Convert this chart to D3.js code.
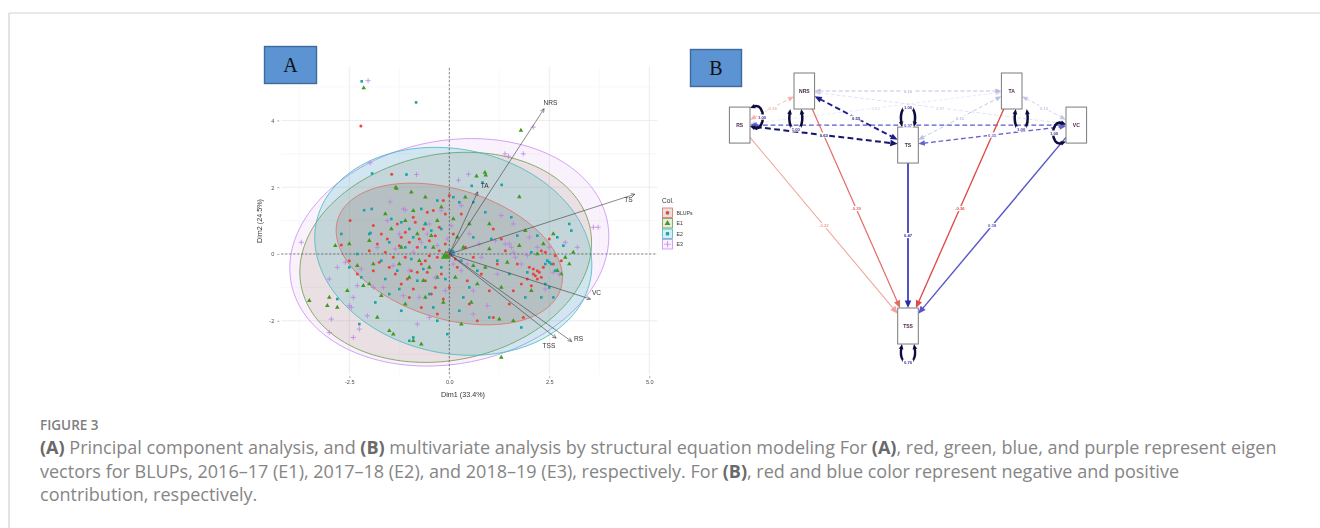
<!DOCTYPE html>
<html>
<head>
<meta charset="utf-8">
<script src="https://cdn.jsdelivr.net/npm/d3@7"></script>
<style>
  body { margin: 0; background: #fff; }
  svg { display: block; }
</style>
</head>
<body>
<svg id="fig" width="1320" height="528"></svg>
<script>
// ---------------- Panel A: PCA biplot data ----------------
const groupNames = ["BLUPs", "E1", "E2", "E3"];

const blupsPts = [
  [-2.21,3.83],[-1.44,2.39],[-2.48,1.0],[-2.7,0.27],[-2.5,-0.2],[-2.3,-0.6],[-1.8,0.3],[-1.6,0.05],
  [-1.5,-0.4],[-1.3,0.9],[-1.2,0.5],[-1.1,-0.1],[-1.0,0.35],[-0.95,-0.5],[-0.9,1.1],[-0.8,0.2],
  [-0.7,-0.3],[-0.65,0.75],[-0.6,-0.8],[-0.5,0.4],[-0.45,-1.2],[-0.4,1.3],[-0.3,-0.1],[-0.25,0.8],
  [-0.2,-0.6],[-0.15,1.6],[-0.1,0.3],[0.0,-1.0],[0.1,0.6],[0.2,-0.4],[0.3,1.2],[-1.2,-0.9],
  [-1.0,-1.3],[-0.7,-1.6],[-0.3,-1.8],[0.5,-1.5],[0.8,-0.6],[1.1,-1.9],[1.2,-0.3],[1.5,-1.5],
  [1.8,-0.9],[2.0,-0.4],[2.1,-0.6],[2.15,-0.65],[2.2,-0.5],[2.25,-0.55],[2.3,-0.7],[2.1,-0.45],
  [2.4,0.05],[2.6,-0.3],[2.65,-0.05],[1.7,-0.3],[1.1,0.75],[1.0,-1.1],[1.6,-1.1],[0.7,-2.0],
  [0.4,0.2],[-1.9,-0.5],[-1.4,-0.1],[-1.1,0.65],[-0.55,1.25],[-0.35,-1.0],[0.0,1.75],[-0.1,1.2],
  [-1.7,0.6],[-2.0,0.1],[1.3,0.45],[2.8,-0.2],[1.85,-1.9],[0.6,-0.1],[-0.8,-0.55],[-0.5,-0.05],
  [2.3,0.1],[2.5,0.45],[-1.35,-0.6],[-0.85,0.95],[-0.6,-0.2],[1.95,-0.75],[2.05,-0.95],[-1.05,-0.75],
  [-1.55,0.45],[-0.75,0.45],[-0.35,0.55],[0.15,-0.15],[-0.55,-0.55],[-1.25,0.25],[-0.15,-1.35],[0.45,-0.8],
  [-0.9,-1.05],[-1.75,-0.25],[2.35,-0.4],[2.2,-0.75],[1.4,0.1],[-0.25,0.1],[-1.9,0.85]
];
const e1Pts = [
  [-2.14,4.97],[1.79,3.70],[0.89,2.44],[0.91,2.36],[0.68,2.33],[1.75,1.71],[-1.34,1.99],[-1.32,1.96],
  [-2.85,0.25],[-2.0,0.4],[-1.9,-0.3],[-2.0,-0.9],[-2.15,-0.95],[-3.0,-1.3],[-3.5,-1.4],[-2.8,-1.6],
  [-1.8,-1.9],[-1.5,-2.3],[-1.4,-2.4],[-0.9,-2.6],[-0.7,-2.7],[-1.1,-1.5],[-0.6,-1.3],[-0.3,-0.7],
  [-0.8,0.6],[-0.6,0.9],[-0.5,-0.4],[-0.4,0.2],[-0.2,1.4],[0.0,-0.05],[0.2,0.5],[0.5,0.9],
  [-0.6,1.7],[-0.9,1.3],[-1.6,1.2],[-1.2,0.2],[-1.0,-0.7],[1.0,0.9],[0.9,-0.4],[1.3,-1.0],
  [1.6,-2.0],[1.3,-3.1],[2.7,-0.5],[2.8,-0.6],[2.9,-0.1],[3.1,0.05],[3.0,-0.3],[2.6,0.6],
  [2.2,0.0],[1.9,0.7],[1.75,0.25],[1.0,0.15],[0.7,-0.9],[0.3,-2.1],[-2.3,-0.35],[-2.55,-1.1],
  [-3.05,-1.55],[-0.15,-1.45],[0.4,1.7],[-0.3,1.0],[-1.45,0.75],[-0.75,-0.2],[0.15,-0.7],[1.25,-1.95],
  [-0.45,0.55],[-1.1,1.0],[0.6,-0.35],[-0.65,-0.8],[1.45,-0.25],[2.35,0.3],[-2.5,0.3],[-1.7,-1.25],
  [0.1,1.05],[-0.95,1.85],[0.55,-1.45],[2.05,-1.1],[-1.25,-0.3],[0.35,0.2]
];
const e2Pts = [
  [-2.19,5.17],[-0.83,4.54],[0.83,2.14],[0.56,2.04],[1.31,2.07],[-1.93,2.41],[-1.07,2.38],[-2.13,1.31],
  [-1.94,1.35],[-2.0,0.6],[-1.97,0.63],[-2.3,0.0],[-2.2,-0.7],[-2.8,-1.35],[-2.25,-2.1],[-1.5,-1.2],
  [-1.2,-1.7],[-1.0,-2.6],[-0.9,-2.5],[-0.3,-2.0],[-0.05,-2.4],[0.5,-1.0],[1.8,-2.2],[1.9,-1.3],
  [2.3,-1.3],[2.4,-0.9],[2.5,-1.0],[2.6,-1.3],[2.45,-0.2],[2.5,-0.25],[2.55,-0.3],[2.4,-0.3],
  [2.65,-0.5],[2.7,0.5],[3.0,0.9],[3.05,0.7],[2.2,0.55],[1.2,-0.2],[0.9,1.25],[0.6,1.55],
  [0.1,1.7],[0.25,1.55],[-0.3,1.6],[-0.6,0.9],[-0.9,0.5],[-1.1,0.2],[-1.3,-0.5],[-0.8,-0.8],
  [-0.5,-1.2],[-0.2,-0.4],[0.0,0.1],[0.3,-0.2],[-0.6,0.2],[-1.5,0.35],[-1.7,-0.2],[-0.7,1.35],
  [-1.2,0.95],[0.6,0.5],[1.5,-0.6],[1.0,-1.9],[-0.4,-1.6],[-1.6,-0.75],[-2.7,0.6],[1.55,1.1],
  [-1.25,-1.05],[-0.95,-0.15],[0.35,-1.3],[1.95,-0.55],
  [-0.45,0.7],[-1.45,1.05],[-0.2,0.75],[0.7,-0.5],[1.7,0.55],[2.05,0.05],[2.85,0.25],[-1.85,-1.45],
  [-2.5,-0.4],[0.25,-1.7],[-0.65,-0.45],[-1.0,0.75],[1.05,0.45],[-0.1,-0.75]
];
const e3Pts = [
  [-2.03,5.19],[2.1,3.8],[1.39,3.0],[1.48,2.93],[1.85,3.0],[0.48,2.39],[0.23,2.21],[-1.98,2.73],
  [-0.82,2.38],[-1.48,1.56],[-1.15,1.35],[-1.1,1.32],[-3.7,0.35],[-3.0,-0.75],[-2.2,-0.45],[-2.3,-0.95],
  [-2.4,-1.3],[-2.95,-1.95],[-3.0,-2.35],[-2.5,-1.55],[-2.45,-1.6],[-2.25,-2.25],[-2.4,-2.5],[-2.05,-1.85],
  [-1.9,-1.0],[-1.8,0.2],[-1.4,-0.35],[-1.0,-0.5],[-0.75,-1.3],[-0.8,-2.1],[-0.5,-1.9],[-0.1,-1.1],
  [0.3,-0.5],[0.6,-1.1],[0.6,-1.8],[1.15,0.4],[1.4,0.3],[1.5,0.3],[1.55,0.2],[1.6,0.05],
  [1.65,-0.1],[1.8,-0.3],[2.0,0.5],[2.2,0.2],[2.5,0.2],[2.6,-0.55],[2.75,-0.6],[2.9,0.35],
  [3.2,0.2],[3.6,0.8],[3.72,0.8],[2.4,-1.05],[1.6,0.9],[0.8,-0.1],[0.5,0.6],[0.3,1.45],
  [-0.2,1.3],[-0.5,0.9],[-0.55,0.6],[-0.9,0.05],[-1.25,0.6],[-0.3,0.25],[0.1,-0.3],[0.25,-0.2],
  [-1.65,-1.0],[-0.05,0.45],[-2.6,-0.25],
  [-1.35,0.15],[-0.7,0.35],[0.05,0.85],[0.75,0.3],[1.2,-0.6],[1.95,-0.05],[-1.55,1.0],[-0.35,-0.7],
  [-1.15,-1.25],[0.95,-1.55],[-2.8,-0.4],[1.3,1.15],[0.45,-0.3]
];

// group centroids (drawn as large markers)
const meanDim1 = [0.0, -0.09, 0.06, 0.03];
const meanDim2 = [0.0, -0.06, 0.04, 0.01];

// concentration ellipses: centre and covariance terms per group
const ellCenterX = [0.0, -0.09, 0.10, 0.0];
const ellCenterY = [0.0, -0.10, 0.08, 0.05];
const ellVarX = [8.0, 13.3, 12.0, 15.9];
const ellVarY = [4.5, 9.9, 9.7, 11.6];
const ellCov = [-2.0, 1.6, -1.4, 1.9];

// variable loadings (arrows)
const varNames = ["NRS", "TA", "TS", "VC", "RS", "TSS"];
const varDim1 = [2.37, 0.71, 4.64, 3.53, 3.06, 2.67];
const varDim2 = [4.35, 1.86, 1.79, -1.35, -2.62, -2.52];

const xTicks = [-2.5, 0, 2.5, 5];
const yTicks = [-2, 0, 2, 4];

// ---------------- Panel B: SEM path diagram data ----------------
const semNodes = ["RS", "NRS", "TS", "TA", "VC", "TSS"];
const semNodeX = [-0.99, -0.61, 0, 0.61, 0.99, 0];
const semNodeY = [0.145, 0, 0.23, 0, 0.145, 1];

const regFrom = ["RS", "NRS", "TS", "TA", "VC"];
const regTo = ["TSS", "TSS", "TSS", "TSS", "TSS"];
const regEst = [-0.22, -0.29, 0.47, -0.36, 0.38];

const covA = ["RS", "RS", "RS", "RS", "NRS", "NRS", "NRS", "TS", "TS", "TA"];
const covB = ["NRS", "TS", "TA", "VC", "TS", "TA", "VC", "TA", "VC", "VC"];
const covEst = [-0.16, 0.63, 0.03, 0.37, 0.55, 0.16, 0.07, 0.15, 0.35, 0.12];

const varNode = ["RS", "NRS", "TS", "TA", "VC", "TSS"];
const varEst = [1.00, 1.00, 1.00, 1.00, 1.00, 0.76];

// ---------------- drawing ----------------
const svg = d3.select("#fig");
const defs = svg.append("defs");
defs.append("filter").attr("id", "soft").attr("x", "-5%").attr("y", "-5%").attr("width", "110%").attr("height", "110%")
  .append("feGaussianBlur").attr("stdDeviation", 0.35);

// page frame
svg.append("line").attr("x1", 9).attr("y1", 13).attr("x2", 1320).attr("y2", 13)
  .attr("stroke", "#d2d2d2").attr("stroke-width", 1.2);
svg.append("line").attr("x1", 9).attr("y1", 13).attr("x2", 9).attr("y2", 528)
  .attr("stroke", "#d2d2d2").attr("stroke-width", 1.2);

// ===== Panel A =====
const pa = svg.append("g").attr("font-family", "Liberation Sans, Arial, sans-serif").attr("filter", "url(#soft)");
const xA = d3.scaleLinear().domain([-4.2, 5.2]).range([281.3, 657.3]);
const yA = d3.scaleLinear().domain([-3.6, 5.6]).range([374.2, 67]);

const groupColor = ["#e8453c", "#3f9a1e", "#14a5a8", "#b97ae2"];
const ellStroke = ["#d9706a", "#6f9a48", "#46b8be", "#c98cf0"];
const ellFill = ["#7d6a5e", "#ab9274", "#2db4b8", "#dcaef2"];
const ellFillOp = [0.2, 0.2, 0.2, 0.16];

// grid
const grid = pa.append("g");
const minorX = [-3.75, -1.25, 1.25, 3.75], minorY = [-3, -1, 1, 3, 5];
grid.selectAll(".gmx").data(minorX).join("line")
  .attr("x1", d => xA(d)).attr("x2", d => xA(d)).attr("y1", yA.range()[0]).attr("y2", yA.range()[1])
  .attr("stroke", "#f0f0f0").attr("stroke-width", 0.5);
grid.selectAll(".gmy").data(minorY).join("line")
  .attr("y1", d => yA(d)).attr("y2", d => yA(d)).attr("x1", xA.range()[0]).attr("x2", xA.range()[1])
  .attr("stroke", "#f0f0f0").attr("stroke-width", 0.5);
grid.selectAll(".gx").data(xTicks).join("line")
  .attr("x1", d => xA(d)).attr("x2", d => xA(d)).attr("y1", yA.range()[0]).attr("y2", yA.range()[1])
  .attr("stroke", "#e4e4e4").attr("stroke-width", 0.7);
grid.selectAll(".gy").data(yTicks).join("line")
  .attr("y1", d => yA(d)).attr("y2", d => yA(d)).attr("x1", xA.range()[0]).attr("x2", xA.range()[1])
  .attr("stroke", "#e4e4e4").attr("stroke-width", 0.7);

// ellipses
const ellLine = d3.line().x(d => xA(d[0])).y(d => yA(d[1])).curve(d3.curveLinearClosed);
function ellipsePoints(i) {
  const sx = Math.sqrt(ellVarX[i]);
  const k = ellCov[i] / sx;
  const r = Math.sqrt(ellVarY[i] - k * k);
  return d3.range(0, 2 * Math.PI, Math.PI / 90).map(t =>
    [ellCenterX[i] + sx * Math.cos(t), ellCenterY[i] + k * Math.cos(t) + r * Math.sin(t)]);
}
const ellOrder = [3, 1, 2, 0];
ellOrder.forEach(i => {
  pa.append("path").attr("d", ellLine(ellipsePoints(i)))
    .attr("fill", ellFill[i]).attr("fill-opacity", ellFillOp[i])
    .attr("stroke", ellStroke[i]).attr("stroke-width", 0.8);
});

// zero reference lines
pa.append("line").attr("x1", xA(0)).attr("x2", xA(0)).attr("y1", yA.range()[0]).attr("y2", yA.range()[1])
  .attr("stroke", "#333").attr("stroke-width", 0.6).attr("stroke-dasharray", "2,2");
pa.append("line").attr("y1", yA(0)).attr("y2", yA(0)).attr("x1", xA.range()[0]).attr("x2", xA.range()[1])
  .attr("stroke", "#333").attr("stroke-width", 0.6).attr("stroke-dasharray", "2,2");

// point markers
function marker(sel, gi, scale) {
  const c = groupColor[gi];
  if (gi === 0) sel.append("circle").attr("r", 1.5 * scale).attr("fill", c);
  else if (gi === 1) sel.append("path").attr("d", d3.symbol(d3.symbolTriangle, 9 * scale * scale)()).attr("fill", c);
  else if (gi === 2) sel.append("rect").attr("x", -1.3 * scale).attr("y", -1.3 * scale)
    .attr("width", 2.6 * scale).attr("height", 2.6 * scale).attr("fill", c);
  else sel.append("path").attr("d", `M${-2.6 * scale},0H${2.6 * scale}M0,${-2.6 * scale}V${2.6 * scale}`)
    .attr("stroke", c).attr("stroke-width", 0.7).attr("fill", "none");
}
const groupPts = [blupsPts, e1Pts, e2Pts, e3Pts];
groupPts.forEach((pts, gi) => {
  pa.append("g").selectAll("g").data(pts).join("g")
    .attr("transform", d => `translate(${xA(d[0])},${yA(d[1])})`)
    .each(function () { marker(d3.select(this), gi, 1); });
});
groupNames.forEach((n, gi) => {
  const m = pa.append("g").attr("transform", `translate(${xA(meanDim1[gi])},${yA(meanDim2[gi])})`);
  marker(m, gi, 2.1);
});

// loading arrows
const arrowG = pa.append("g");
const labelOffset = { NRS: [6.4, -5.7], TA: [7, -5.7], TS: [-6.4, 6], VC: [6, -5.4], RS: [6.8, -2.7], TSS: [-7.2, 7.7] };
varNames.forEach((v, i) => {
  const x0 = xA(0), y0 = yA(0), x1 = xA(varDim1[i]), y1 = yA(varDim2[i]);
  const ang = Math.atan2(y1 - y0, x1 - x0);
  const hl = 4.2, ha = Math.PI / 7;
  arrowG.append("line").attr("x1", x0).attr("y1", y0).attr("x2", x1).attr("y2", y1)
    .attr("stroke", "#3a3a3a").attr("stroke-width", 0.6);
  arrowG.append("path")
    .attr("d", `M${x1 - hl * Math.cos(ang - ha)},${y1 - hl * Math.sin(ang - ha)}L${x1},${y1}L${x1 - hl * Math.cos(ang + ha)},${y1 - hl * Math.sin(ang + ha)}`)
    .attr("stroke", "#3a3a3a").attr("stroke-width", 0.6).attr("fill", "none");
  arrowG.append("text").attr("x", x1 + labelOffset[v][0]).attr("y", y1 + labelOffset[v][1])
    .attr("text-anchor", "middle").attr("dominant-baseline", "middle")
    .attr("font-size", 6.6).attr("fill", "#333").text(v);
});

// axes
const axX = pa.append("g").attr("transform", `translate(0,${yA.range()[0] + 2})`)
  .call(d3.axisBottom(xA).tickValues(xTicks).tickFormat(d => d.toFixed(1)).tickSize(2));
const axY = pa.append("g").attr("transform", `translate(${xA.range()[0] - 2},0)`)
  .call(d3.axisLeft(yA).tickValues(yTicks).tickFormat(d => String(d)).tickSize(2));
[axX, axY].forEach(a => {
  a.select(".domain").remove();
  a.selectAll(".tick line").attr("stroke", "#555").attr("stroke-width", 0.5);
  a.selectAll(".tick text").attr("font-size", 5.6).attr("fill", "#4d4d4d").attr("font-family", "Liberation Sans, Arial, sans-serif");
});
axX.selectAll(".tick text").attr("dy", "0.5em");

pa.append("text").attr("x", 463).attr("y", 397).attr("text-anchor", "middle")
  .attr("font-size", 7.2).attr("fill", "#333").text("Dim1 (33.4%)");
pa.append("text").attr("transform", `translate(262,221) rotate(-90)`).attr("text-anchor", "middle")
  .attr("font-size", 7.2).attr("fill", "#333").text("Dim2 (24.5%)");

// legend
const lg = pa.append("g").attr("transform", "translate(662,203)");
lg.append("text").attr("x", 0).attr("y", 0).attr("font-size", 6.6).attr("fill", "#333").text("Col.");
groupNames.forEach((n, gi) => {
  const ky = 5 + gi * 10.5;
  lg.append("rect").attr("x", 0.5).attr("y", ky).attr("width", 10).attr("height", 9.5)
    .attr("fill", ellFill[gi]).attr("fill-opacity", ellFillOp[gi])
    .attr("stroke", ellStroke[gi]).attr("stroke-width", 0.8);
  const m = lg.append("g").attr("transform", `translate(5.5,${ky + 4.75})`);
  marker(m, gi, 1.25);
  lg.append("text").attr("x", 14.5).attr("y", ky + 6.6).attr("font-size", 5.2).attr("fill", "#333").text(n);
});

// panel tag A
svg.append("rect").attr("x", 264.5).attr("y", 46.5).attr("width", 52).attr("height", 37)
  .attr("fill", "#5b93d3").attr("stroke", "#3f6a9a").attr("stroke-width", 1.4);
svg.append("text").attr("x", 290.5).attr("y", 72).attr("text-anchor", "middle")
  .attr("font-family", "Liberation Serif, Times New Roman, serif").attr("font-size", 20).attr("fill", "#111").text("A");

// ===== Panel B =====
const pb = svg.append("g").attr("font-family", "Liberation Sans, Arial, sans-serif").attr("filter", "url(#soft)");
const xB = d3.scaleLinear().domain([-1, 1]).range([738, 1078]);
const yB = d3.scaleLinear().domain([0, 1]).range([91, 326]);
const halfW = 10.3, halfH = 18;
const nodeIdx = n => semNodes.indexOf(n);
const nodePos = n => [xB(semNodeX[nodeIdx(n)]), yB(semNodeY[nodeIdx(n)])];

const posColor = d3.scaleLinear().domain([0, 0.1, 0.2, 0.37, 0.47, 0.6, 1])
  .range(["#e4e4f6", "#cacaea", "#b0b0e0", "#5a5acc", "#2a2ab4", "#141470", "#0a0a36"]);
const negColor = d3.scaleLinear().domain([0, 0.16, 0.22, 0.29, 0.36])
  .range(["#fbe0dc", "#f4b2a8", "#f0a39a", "#e26a64", "#e04a48"]);
const edgeColor = w => (w < 0 ? negColor(-w) : posColor(w));
const edgeWidth = w => 0.5 + 2.4 * Math.abs(w);

function boundaryPoint(c, toward) {
  const dx = toward[0] - c[0], dy = toward[1] - c[1];
  const t = Math.min(dx === 0 ? Infinity : halfW / Math.abs(dx), dy === 0 ? Infinity : halfH / Math.abs(dy));
  return [c[0] + dx * t, c[1] + dy * t];
}
function headPath(tip, ux, uy, len, wid) {
  const bx = tip[0] - ux * len, by = tip[1] - uy * len;
  return `M${tip[0]},${tip[1]}L${bx - uy * wid / 2},${by + ux * wid / 2}L${bx + uy * wid / 2},${by - ux * wid / 2}Z`;
}
const edgeLabels = [];

function drawEdge(a, b, w, twoHeaded) {
  const pa_ = nodePos(a), pb_ = nodePos(b);
  const s = boundaryPoint(pa_, pb_), e = boundaryPoint(pb_, pa_);
  const L = Math.hypot(e[0] - s[0], e[1] - s[1]);
  const ux = (e[0] - s[0]) / L, uy = (e[1] - s[1]) / L;
  const col = edgeColor(w), sw = edgeWidth(w);
  const hl = twoHeaded ? 5.5 + 3 * Math.abs(w) : 7.5, hw = twoHeaded ? 4.5 + 3 * Math.abs(w) : 6.5;
  const s2 = twoHeaded ? [s[0] + ux * hl * 0.8, s[1] + uy * hl * 0.8] : s;
  const e2 = [e[0] - ux * hl * 0.8, e[1] - uy * hl * 0.8];
  pb.append("line").attr("x1", s2[0]).attr("y1", s2[1]).attr("x2", e2[0]).attr("y2", e2[1])
    .attr("stroke", col).attr("stroke-width", sw)
    .attr("stroke-dasharray", twoHeaded ? `${2.6 + sw * 1.6},${1.6 + sw * 0.9}` : null);
  pb.append("path").attr("d", headPath(e, ux, uy, hl, hw)).attr("fill", col);
  if (twoHeaded) pb.append("path").attr("d", headPath(s, -ux, -uy, hl, hw)).attr("fill", col);
  edgeLabels.push({ x: (s[0] + e[0]) / 2, y: (s[1] + e[1]) / 2, w, col });
}

covA.forEach((a, i) => drawEdge(a, covB[i], covEst[i], true));
regFrom.forEach((a, i) => drawEdge(a, regTo[i], regEst[i], false));

// residual variance loops
const loopLayout = {
  RS: { dir: [1, 0], off: -8, spread: 9, out: 12 },
  NRS: { dir: [0, 1], off: 8.5, spread: 5.5, out: 20 },
  TS: { dir: [0, -1], off: 0, spread: 6, out: 20 },
  TA: { dir: [0, 1], off: -9.5, spread: 5.5, out: 20 },
  VC: { dir: [-1, 0], off: -8, spread: 8.5, out: 12 },
  TSS: { dir: [0, 1], off: 0, spread: 6, out: 18 }
};
varNode.forEach((n, i) => {
  const c = nodePos(n), lay = loopLayout[n];
  const d = lay.dir, p = [-d[1], d[0]];
  const base = [c[0] + d[0] * halfW + p[0] * lay.off, c[1] + d[1] * halfH + p[1] * lay.off];
  const P1 = [base[0] - p[0] * lay.spread, base[1] - p[1] * lay.spread];
  const P2 = [base[0] + p[0] * lay.spread, base[1] + p[1] * lay.spread];
  const k = 1.33 * lay.out;
  const C1 = [P1[0] + d[0] * k - p[0] * lay.spread * 0.7, P1[1] + d[1] * k - p[1] * lay.spread * 0.7];
  const C2 = [P2[0] + d[0] * k + p[0] * lay.spread * 0.7, P2[1] + d[1] * k + p[1] * lay.spread * 0.7];
  const col = "#0b0b3c";
  const hl = 5.2, hw = 4.6;
  // trim the curve ends so the heads sit on the node
  const dir1 = [P1[0] - C1[0], P1[1] - C1[1]], l1 = Math.hypot(...dir1);
  const dir2 = [P2[0] - C2[0], P2[1] - C2[1]], l2 = Math.hypot(...dir2);
  const u1 = [dir1[0] / l1, dir1[1] / l1], u2 = [dir2[0] / l2, dir2[1] / l2];
  const Q1 = [P1[0] - u1[0] * hl * 0.8, P1[1] - u1[1] * hl * 0.8];
  const Q2 = [P2[0] - u2[0] * hl * 0.8, P2[1] - u2[1] * hl * 0.8];
  pb.append("path").attr("d", `M${Q1[0]},${Q1[1]}C${C1[0]},${C1[1]} ${C2[0]},${C2[1]} ${Q2[0]},${Q2[1]}`)
    .attr("fill", "none").attr("stroke", col).attr("stroke-width", 1.9 + 0.6 * varEst[i]);
  pb.append("path").attr("d", headPath(P1, u1[0], u1[1], hl, hw)).attr("fill", col);
  pb.append("path").attr("d", headPath(P2, u2[0], u2[1], hl, hw)).attr("fill", col);
  edgeLabels.push({ x: base[0] + d[0] * lay.out, y: base[1] + d[1] * lay.out, w: varEst[i], col: "#4b2f9a" });
});

// nodes
semNodes.forEach((n, i) => {
  const [cx, cy] = [xB(semNodeX[i]), yB(semNodeY[i])];
  pb.append("rect").attr("x", cx - halfW).attr("y", cy - halfH).attr("width", 2 * halfW).attr("height", 2 * halfH)
    .attr("fill", "#fff").attr("stroke", "#7a7a7a").attr("stroke-width", 1);
  pb.append("text").attr("x", cx).attr("y", cy + 1.7).attr("text-anchor", "middle")
    .attr("font-size", 5).attr("font-weight", "bold").attr("fill", "#4a2a4a").text(n);
});

// edge value labels
edgeLabels.forEach(l => {
  const txt = l.w.toFixed(2);
  const tw = txt.length * 2.3;
  pb.append("rect").attr("x", l.x - tw / 2 - 0.6).attr("y", l.y - 2.6).attr("width", tw + 1.2).attr("height", 5.2)
    .attr("fill", "#fff");
  pb.append("text").attr("x", l.x).attr("y", l.y + 1.5).attr("text-anchor", "middle")
    .attr("font-size", 4.2).attr("font-weight", "bold").attr("fill", l.col).text(txt);
});

// panel tag B
svg.append("rect").attr("x", 690.5).attr("y", 49.5).attr("width", 51).attr("height", 37)
  .attr("fill", "#5b93d3").attr("stroke", "#3f6a9a").attr("stroke-width", 1.4);
svg.append("text").attr("x", 716).attr("y", 75).attr("text-anchor", "middle")
  .attr("font-family", "Liberation Serif, Times New Roman, serif").attr("font-size", 20).attr("fill", "#111").text("B");

// ===== caption =====
const cap = svg.append("g").attr("font-family", "Open Sans, Lato, sans-serif");
cap.append("text").attr("x", 40).attr("y", 430).attr("font-size", 13.5).attr("font-weight", 600)
  .attr("fill", "#808080").text("FIGURE 3");
const capLines = [
  [["(A)", 1], [" Principal component analysis, and ", 0], ["(B)", 1], [" multivariate analysis by structural equation modeling For ", 0], ["(A)", 1], [", red, green, blue, and purple represent eigen", 0]],
  [["vectors for BLUPs, 2016–17 (E1), 2017–18 (E2), and 2018–19 (E3), respectively. For ", 0], ["(B)", 1], [", red and blue color represent negative and positive", 0]],
  [["contribution, respectively.", 0]]
];
const capBase = [454, 477.5, 501];
const capNodes = capLines.map((parts, li) => {
  const t = cap.append("text").attr("x", 40).attr("y", capBase[li]).attr("font-size", 16).attr("fill", "#858585");
  parts.forEach(([s, b]) => {
    const ts = t.append("tspan").text(s);
    if (b) ts.attr("font-weight", 700).attr("fill", "#6a6a6a");
  });
  return t;
});
const w0 = capNodes[0].node().getComputedTextLength();
const fs = 16 * 1238 / w0;
capNodes.forEach(t => t.attr("font-size", fs));
</script>
</body>
</html>
